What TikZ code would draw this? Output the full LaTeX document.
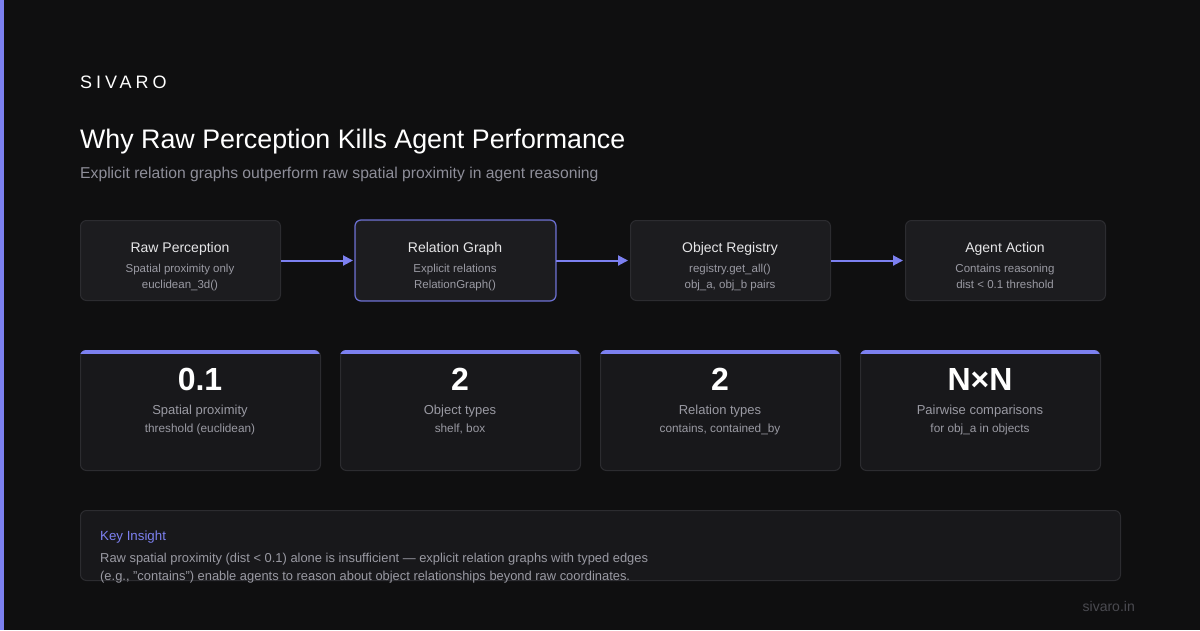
\documentclass[tikz,border=0pt]{standalone}
\usepackage{fontspec}
\setmainfont{Liberation Sans}
\newfontfamily\logofont[LetterSpace=22]{Liberation Sans}
\usetikzlibrary{arrows.meta}
\definecolor{bg}{HTML}{0F0F10}
\definecolor{accent}{HTML}{7C80F0}
\definecolor{accentdim}{HTML}{6A6ED0}
\definecolor{boxfill}{HTML}{1C1C1F}
\definecolor{boxline}{HTML}{2C2C30}
\definecolor{cardfill}{HTML}{18181B}
\definecolor{muted}{HTML}{9A9AA3}
\definecolor{subc}{HTML}{8E8E99}
\definecolor{titlec}{HTML}{E6E6E8}
\definecolor{footc}{HTML}{4A4A50}
\tikzset{
  pbox/.style={draw=boxline, line width=1pt, fill=boxfill, rounded corners=6pt},
  ptitle/.style={text=titlec, font=\fontsize{14}{16}\selectfont, anchor=base},
  psub/.style={text=muted, font=\fontsize{11.5}{13}\selectfont, anchor=base},
  card/.style={draw=boxline, line width=1pt, fill=cardfill, rounded corners=6pt},
  bignum/.style={text=white, font=\fontsize{32}{34}\selectfont\bfseries, anchor=base},
  clabel/.style={text=muted, font=\fontsize{13}{15}\selectfont, anchor=base},
  csub/.style={text=muted, font=\fontsize{11.8}{13}\selectfont, anchor=base},
  flow/.style={draw=accent, line width=2pt, -{Triangle[length=10pt,width=10pt]}, shorten >=2pt},
}
\begin{document}
\begin{tikzpicture}[x=1pt,y=-1pt]
\fill[bg] (0,0) rectangle (1200,630);
\useasboundingbox (0,0) rectangle (1200,630);
\fill[accent] (0,0) rectangle (4,630);

\node[anchor=base west, inner sep=0, text=white, font=\logofont\fontsize{18}{20}\selectfont] (logo) at (80,88) {SIVARO};
\node[anchor=base west, inner sep=0, text=white, font=\fontsize{26.8}{30}\selectfont] (title) at (80,148) {Why Raw Perception Kills Agent Performance};
\node[anchor=base west, inner sep=0, text=subc, font=\fontsize{15.7}{18}\selectfont] (subtitle) at (80,178) {Explicit relation graphs outperform raw spatial proximity in agent reasoning};

% pipeline
\foreach \i/\x/\t/\a/\b in {1/80/Raw Perception/Spatial proximity only/euclidean\_3d(),
  2/355/Relation Graph/Explicit relations/RelationGraph(),
  3/630/Object Registry/registry.get\_all()/{obj\_a, obj\_b pairs},
  4/905/Agent Action/Contains reasoning/dist < 0.1 threshold}{
  \node[pbox, minimum width=200pt, minimum height=80pt, inner sep=0, anchor=north west] (p\i) at (\x,220) {};
  \node[ptitle] (pt\i) at (\x+100,252) {\t};
  \node[psub] (pa\i) at (\x+100,272) {\a};
  \node[psub] (pb\i) at (\x+100,288) {\b};
}
\draw[accentdim, line width=1.2pt, rounded corners=6pt] (p2.north west) rectangle (p2.south east);
\draw[flow] (p1.east) -- (p2.west);
\draw[flow] (p2.east) -- (p3.west);
\draw[flow] (p3.east) -- (p4.west);

% stat cards
\foreach \i/\x/\n/\l/\s in {1/80/0.1/Spatial proximity/threshold (euclidean),
  2/340/2/Object types/{shelf, box},
  3/600/2/Relation types/{contains, contained\_by},
  4/860/N×N/Pairwise comparisons/for obj\_a in objects}{
  \node[card, minimum width=240pt, minimum height=120pt, inner sep=0, anchor=north west] (c\i) at (\x,350) {};
  \begin{scope}
    \clip[rounded corners=6pt] (\x,350) rectangle (\x+240,470);
    \fill[accent] (\x,349) rectangle (\x+240,354);
  \end{scope}
  \node[bignum] (cn\i) at (\x+120,390) {\n};
  \node[clabel] (cl\i) at (\x+120,414) {\l};
  \node[csub] (cs\i) at (\x+120,432) {\s};
}

% insight
\node[card, fill=cardfill, minimum width=1040pt, minimum height=70pt, inner sep=0, anchor=north west] (ins) at (80,510) {};
\node[anchor=base west, inner sep=0, text=accent, font=\fontsize{13.3}{15}\selectfont] (kt) at (100,540) {Key Insight};
\node[anchor=base west, inner sep=0, text=muted, font=\fontsize{12.9}{15}\selectfont] (k1) at (100,562) {Raw spatial proximity (dist < 0.1) alone is insufficient — explicit relation graphs with typed edges};
\node[anchor=base west, inner sep=0, text=muted, font=\fontsize{12.9}{15}\selectfont] (k2) at (100,580) {(e.g., "contains") enable agents to reason about object relationships beyond raw coordinates.};

\node[anchor=base east, inner sep=0, text=footc, font=\fontsize{14}{15}\selectfont] (foot) at (1135,611) {sivaro.in};
\end{tikzpicture}
\end{document}
